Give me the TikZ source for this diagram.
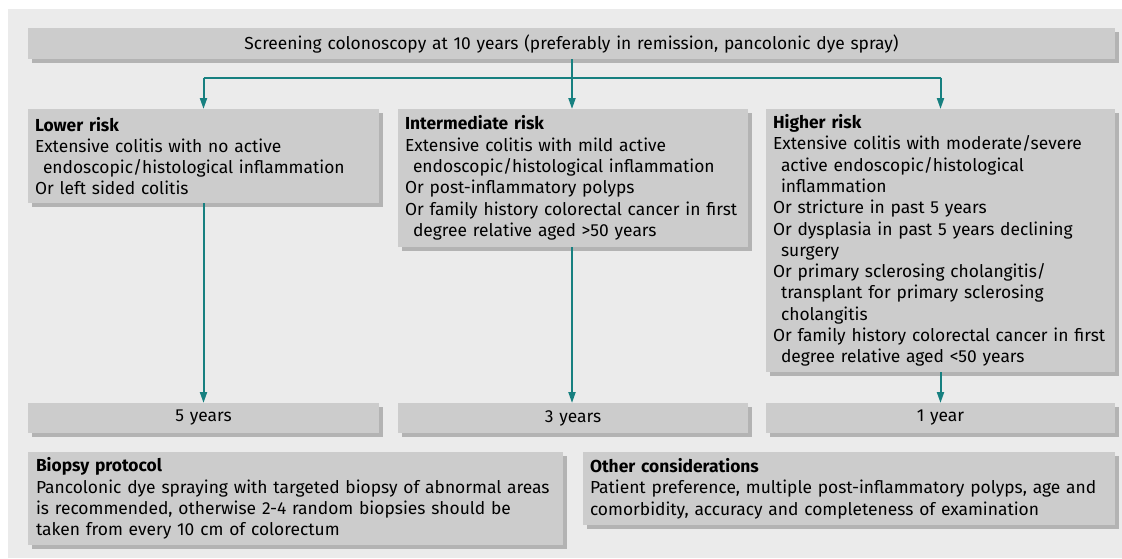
\documentclass[tikz,border=0pt]{standalone}
\usepackage{fontspec}
\setmainfont{Fira Sans}
\usetikzlibrary{shadows,arrows.meta}
\definecolor{bgc}{HTML}{EBEBEB}
\definecolor{boxc}{HTML}{CCCCCC}
\definecolor{shc}{HTML}{B3B3B3}
\definecolor{tealc}{HTML}{178080}
\tikzset{
  panel/.style={fill=boxc, draw=none, anchor=north west, inner xsep=7pt, inner ysep=0pt,
    outer sep=0pt, align=left,
    font=\fontsize{17.4}{21.3}\selectfont,
    drop shadow={shadow xshift=3.5pt, shadow yshift=-3.5pt, fill=shc, opacity=1}},
  conn/.style={draw=tealc, line width=2pt},
  arr/.style={conn, -{Triangle[width=7pt,length=11pt]}},
}
\newcommand{\ind}{\hspace*{8pt}}
\begin{document}
\begin{tikzpicture}[x=1pt,y=-1pt]
\useasboundingbox (0,0) rectangle (1122,558);
\fill[white] (0,0) rectangle (1122,558);
\fill[bgc] (8,9) rectangle (1122,558);

\node[panel, align=center, minimum width=1087pt, minimum height=31pt, text width=1073pt] (top) at (28,28)
  {Screening colonoscopy at 10 years (preferably in remission, pancolonic dye spray)};

\node[panel, minimum width=351pt, minimum height=94pt, text width=337pt] (lower) at (28,109)
  {\textbf{Lower risk}\\
   Extensive colitis with no active\\
   \ind endoscopic/histological inflammation\\
   Or left sided colitis};

\node[panel, minimum width=350pt, minimum height=138pt, text width=336pt] (inter) at (398,109)
  {\textbf{Intermediate risk}\\
   Extensive colitis with mild active\\
   \ind endoscopic/histological inflammation\\
   Or post-inflammatory polyps\\
   Or family history colorectal cancer in first\\
   \ind degree relative aged >50 years};

\node[panel, minimum width=349pt, minimum height=263pt, text width=335pt] (higher) at (766,109)
  {\textbf{Higher risk}\\
   Extensive colitis with moderate/severe\\
   \ind active endoscopic/histological\\
   \ind inflammation\\
   Or stricture in past 5 years\\
   Or dysplasia in past 5 years declining\\
   \ind surgery\\
   Or primary sclerosing cholangitis/\\
   \ind transplant for primary sclerosing\\
   \ind cholangitis\\
   Or family history colorectal cancer in first\\
   \ind degree relative aged <50 years};

\node[panel, align=center, minimum width=351pt, minimum height=30pt, text width=337pt] (y5) at (28,403) {5 years};
\node[panel, align=center, minimum width=350pt, minimum height=30pt, text width=336pt] (y3) at (398,403) {3 years};
\node[panel, align=center, minimum width=349pt, minimum height=30pt, text width=335pt] (y1) at (766,403) {1 year};

\node[panel, inner xsep=8pt, minimum width=535pt, minimum height=93pt, text width=519pt] (biopsy) at (28,452)
  {\textbf{Biopsy protocol}\\
   Pancolonic dye spraying with targeted biopsy of abnormal areas\\
   is recommended, otherwise 2-4 random biopsies should be\\
   taken from every 10 cm of colorectum};

\node[panel, minimum width=532pt, minimum height=73pt, text width=518pt] (other) at (583,452)
  {\textbf{Other considerations}\\
   Patient preference, multiple post-inflammatory polyps, age and\\
   comorbidity, accuracy and completeness of examination};

\coordinate (split) at (572,77.5);
\draw[conn] (top.south -| split) -- (split);
\draw[conn] (lower.north |- split) -- (higher.north |- split);
\draw[arr] (lower.north |- split) -- (lower.north);
\draw[arr] (split) -- (inter.north -| split);
\draw[arr] (higher.north |- split) -- (higher.north);
\draw[arr] (lower.south) -- (y5.north);
\draw[arr] (inter.south -| split) -- (y3.north -| split);
\draw[arr] (higher.south) -- (y1.north);
\end{tikzpicture}
\end{document}
